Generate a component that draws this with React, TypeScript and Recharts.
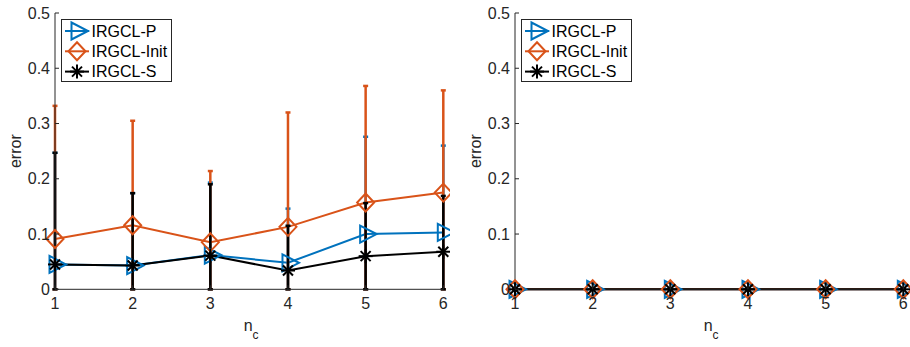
import { LineChart, Line, XAxis, YAxis, ErrorBar, Legend } from "recharts";

const nc = [1, 2, 3, 4, 5, 6];
const yTicks = [0, 0.1, 0.2, 0.3, 0.4, 0.5];

// left panel: mean error and top of the error bar
const pMean = [0.045, 0.043, 0.062, 0.048, 0.1, 0.103];
const pUpper = [0.247, 0.174, 0.193, 0.146, 0.276, 0.26];
const initMean = [0.091, 0.116, 0.085, 0.113, 0.157, 0.175];
const initUpper = [0.332, 0.305, 0.214, 0.32, 0.368, 0.36];
const sMean = [0.045, 0.043, 0.061, 0.034, 0.06, 0.068];
const sUpper = [0.247, 0.174, 0.19, 0.115, 0.156, 0.169];

// right panel: everything sits at zero
const zeroMean = [0, 0, 0, 0, 0, 0];
const zeroUpper = [0, 0, 0, 0, 0, 0];

const BLUE = "#0072BD";
const ORANGE = "#D95319";
const BLACK = "#000000";
const AXIS = "#262626";
const FONT = "'Liberation Sans', Arial, sans-serif";

const buildRows = (p, pu, ini, iu, s, su) =>
  nc.map((x, i) => ({
    x,
    p: p[i],
    pErr: [p[i], pu[i] - p[i]],
    init: ini[i],
    initErr: [ini[i], iu[i] - ini[i]],
    s: s[i],
    sErr: [s[i], su[i] - s[i]],
  }));

const leftRows = buildRows(pMean, pUpper, initMean, initUpper, sMean, sUpper);
const rightRows = buildRows(zeroMean, zeroUpper, zeroMean, zeroUpper, zeroMean, zeroUpper);

const Marker = ({ kind, cx, cy, color }) => {
  if (kind === "tri")
    return (
      <polygon
        points={`${cx - 5.5},${cy - 8.5} ${cx + 11},${cy} ${cx - 5.5},${cy + 8.5}`}
        fill="none"
        stroke={color}
        strokeWidth={2}
      />
    );
  if (kind === "dia")
    return (
      <polygon
        points={`${cx},${cy - 9} ${cx + 8.5},${cy} ${cx},${cy + 9} ${cx - 8.5},${cy}`}
        fill="none"
        stroke={color}
        strokeWidth={2}
      />
    );
  return (
    <g stroke={color} strokeWidth={2}>
      <line x1={cx} y1={cy - 7} x2={cx} y2={cy + 7} />
      <line x1={cx - 7} y1={cy} x2={cx + 7} y2={cy} />
      <line x1={cx - 5} y1={cy - 5} x2={cx + 5} y2={cy + 5} />
      <line x1={cx - 5} y1={cy + 5} x2={cx + 5} y2={cy - 5} />
    </g>
  );
};

const series = [
  { key: "p", err: "pErr", name: "IRGCL-P", color: BLUE, kind: "tri" },
  { key: "init", err: "initErr", name: "IRGCL-Init", color: ORANGE, kind: "dia" },
  { key: "s", err: "sErr", name: "IRGCL-S", color: BLACK, kind: "star" },
];

const LegendBox = () => (
  <svg width={112} height={64} style={{ display: "block" }}>
    <rect x={0.5} y={0.5} width={110} height={62} fill="#fff" stroke={AXIS} strokeWidth={1} />
    {series.map((s, i) => {
      const cy = 12 + i * 20.3;
      return (
        <g key={s.key}>
          <line x1={4} y1={cy} x2={28} y2={cy} stroke={s.color} strokeWidth={2} />
          <Marker kind={s.kind} cx={16} cy={cy} color={s.color} />
          <text x={30.5} y={cy} dominantBaseline="central" fontSize={16} fontFamily={FONT} fill="#000">
            {s.name}
          </text>
        </g>
      );
    })}
  </svg>
);

const AxisTick = (props) => {
  const { x, y, payload, side } = props;
  const t = 4;
  if (side === "bottom")
    return (
      <g>
        <line x1={x} y1={y} x2={x} y2={y - t} stroke={AXIS} />
        <text x={x} y={y + 20} textAnchor="middle" fontSize={16} fontFamily={FONT} fill={AXIS}>
          {payload.value}
        </text>
      </g>
    );
  if (side === "top") return <line x1={x} y1={y} x2={x} y2={y + t} stroke={AXIS} />;
  if (side === "left")
    return (
      <g>
        <line x1={x} y1={y} x2={x + t} y2={y} stroke={AXIS} />
        <text x={x - 5} y={y} textAnchor="end" dominantBaseline="central" fontSize={16} fontFamily={FONT} fill={AXIS}>
          {payload.value}
        </text>
      </g>
    );
  return <line x1={x} y1={y} x2={x - t} y2={y} stroke={AXIS} />;
};

const Panel = ({ rows }) => (
  <LineChart
    width={450}
    height={347}
    data={rows}
    margin={{ top: 13, right: 6.7, left: 0, bottom: 0 }}
    style={{ fontFamily: FONT }}
  >
    <XAxis
      xAxisId="b"
      dataKey="x"
      type="number"
      domain={[1, 6]}
      ticks={nc}
      height={57.7}
      tickSize={0}
      tickMargin={0}
      tickLine={false}
      axisLine={{ stroke: AXIS }}
      tick={(p) => <AxisTick {...p} side="bottom" />}
      label={{
        content: ({ viewBox }) => {
          const cx = viewBox.x + viewBox.width / 2;
          return (
            <text x={cx - 5.5} y={viewBox.y + 42} fontFamily={FONT} fill={AXIS} fontSize={16}>
              n
              <tspan fontSize={12} dy={8}>
                c
              </tspan>
            </text>
          );
        },
      }}
    />
    <XAxis
      xAxisId="t"
      orientation="top"
      dataKey="x"
      type="number"
      domain={[1, 6]}
      ticks={nc}
      height={0}
      tickSize={0}
      tickMargin={0}
      tickLine={false}
      axisLine={{ stroke: AXIS }}
      tick={(p) => <AxisTick {...p} side="top" />}
    />
    <YAxis
      yAxisId="l"
      type="number"
      domain={[0, 0.5]}
      ticks={yTicks}
      width={55}
      tickSize={0}
      tickMargin={0}
      tickLine={false}
      axisLine={{ stroke: AXIS }}
      tick={(p) => <AxisTick {...p} side="left" />}
      label={{
        content: ({ viewBox }) => {
          const cy = viewBox.y + viewBox.height / 2;
          return (
            <text
              x={16}
              y={cy}
              transform={`rotate(-90, 16, ${cy})`}
              textAnchor="middle"
              dominantBaseline="central"
              fontFamily={FONT}
              fontSize={16}
              fill={AXIS}
            >
              error
            </text>
          );
        },
      }}
    />
    <YAxis
      yAxisId="r"
      orientation="right"
      type="number"
      domain={[0, 0.5]}
      ticks={yTicks}
      width={0}
      tickSize={0}
      tickMargin={0}
      tickLine={false}
      axisLine={{ stroke: AXIS }}
      tick={(p) => <AxisTick {...p} side="right" />}
    />
    {series.map((s) => (
      <Line
        key={s.key}
        xAxisId="b"
        yAxisId="l"
        dataKey={s.key}
        name={s.name}
        stroke={s.color}
        strokeWidth={2}
        isAnimationActive={false}
        dot={(d) => <Marker key={`${s.key}-${d.index}`} kind={s.kind} cx={d.cx} cy={d.cy} color={s.color} />}
        activeDot={false}
      >
        <ErrorBar dataKey={s.err} direction="y" width={2.5} stroke={s.color} strokeWidth={2.5} isAnimationActive={false} />
      </Line>
    ))}
    <Legend
      layout="vertical"
      align="center"
      verticalAlign="middle"
      wrapperStyle={{ left: 61, top: 19, width: 112, height: 64 }}
      content={() => <LegendBox />}
    />
  </LineChart>
);

export default function App() {
  return (
    <div
      style={{
        position: "absolute",
        left: 0,
        top: 0,
        width: 910,
        height: 347,
        overflow: "hidden",
        background: "#fff",
      }}
    >
      <div style={{ position: "absolute", left: 0, top: 0 }}>
        <Panel rows={leftRows} />
      </div>
      <div style={{ position: "absolute", left: 460, top: 0 }}>
        <Panel rows={rightRows} />
      </div>
    </div>
  );
}
